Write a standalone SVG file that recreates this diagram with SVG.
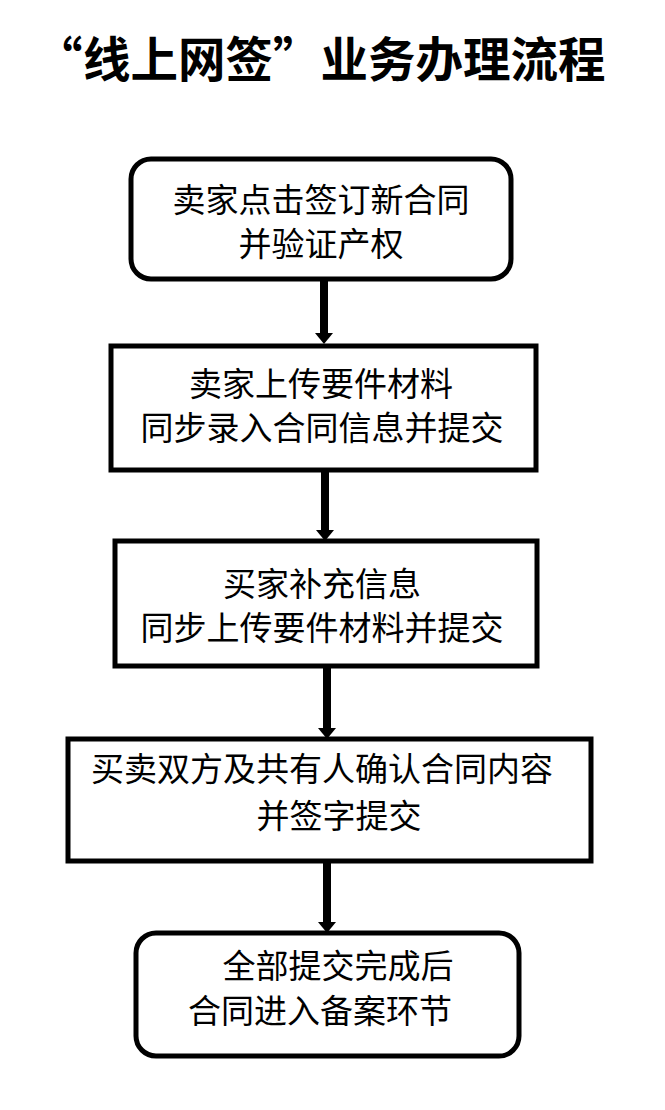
<svg xmlns="http://www.w3.org/2000/svg" width="665" height="1110" viewBox="0 0 665 1110">
  <style>
    .box { fill: #ffffff; stroke: #000000; stroke-width: 5; }
    .t { font-family: "Noto Sans CJK SC", "Noto Sans", sans-serif; font-size: 33px; fill: #000000; text-anchor: middle; }
    .title { font-family: "Noto Sans CJK SC", "Noto Sans", sans-serif; font-size: 47.5px; font-weight: bold; fill: #000000; }
    .conn { stroke: #000000; stroke-width: 8; fill: none; marker-end: url(#arrow); }
  </style>
  <defs>
    <marker id="arrow" markerUnits="userSpaceOnUse" viewBox="0 0 11 18" markerWidth="11" markerHeight="18" refX="0" refY="9" orient="auto">
      <path d="M0,0 L11,9 L0,18 Z" fill="#000000"/>
    </marker>
  </defs>
  <rect x="0" y="0" width="665" height="1110" fill="#ffffff"/>

  <g id="title">
    <text class="title" x="35" y="77"><tspan>“</tspan><tspan x="83">线上网签”业务办理流程</tspan></text>
  </g>

  <g id="connectors">
    <line class="conn" x1="324" y1="281" x2="324" y2="333"/>
    <line class="conn" x1="325" y1="472" x2="325" y2="530"/>
    <line class="conn" x1="327" y1="668" x2="327" y2="728"/>
    <line class="conn" x1="327" y1="863" x2="327" y2="922"/>
  </g>

  <g id="node1">
    <rect class="box" x="131" y="159" width="380" height="120" rx="20" ry="20"/>
    <text class="t"><tspan x="321" y="212">卖家点击签订新合同</tspan><tspan x="321" y="256">并验证产权</tspan></text>
  </g>

  <g id="node2">
    <rect class="box" x="111" y="346" width="425" height="124"/>
    <text class="t"><tspan x="321" y="396">卖家上传要件材料</tspan><tspan x="322" y="440">同步录入合同信息并提交</tspan></text>
  </g>

  <g id="node3">
    <rect class="box" x="115" y="541" width="422" height="125"/>
    <text class="t"><tspan x="322" y="596">买家补充信息</tspan><tspan x="322" y="640">同步上传要件材料并提交</tspan></text>
  </g>

  <g id="node4">
    <rect class="box" x="68" y="739" width="523" height="122"/>
    <text class="t"><tspan x="322" y="781">买卖双方及共有人确认合同内容</tspan><tspan x="339" y="828">并签字提交</tspan></text>
  </g>

  <g id="node5">
    <rect class="box" x="136" y="933" width="383" height="123" rx="20" ry="20"/>
    <text class="t"><tspan x="338" y="978">全部提交完成后</tspan><tspan x="320" y="1023">合同进入备案环节</tspan></text>
  </g>
</svg>
